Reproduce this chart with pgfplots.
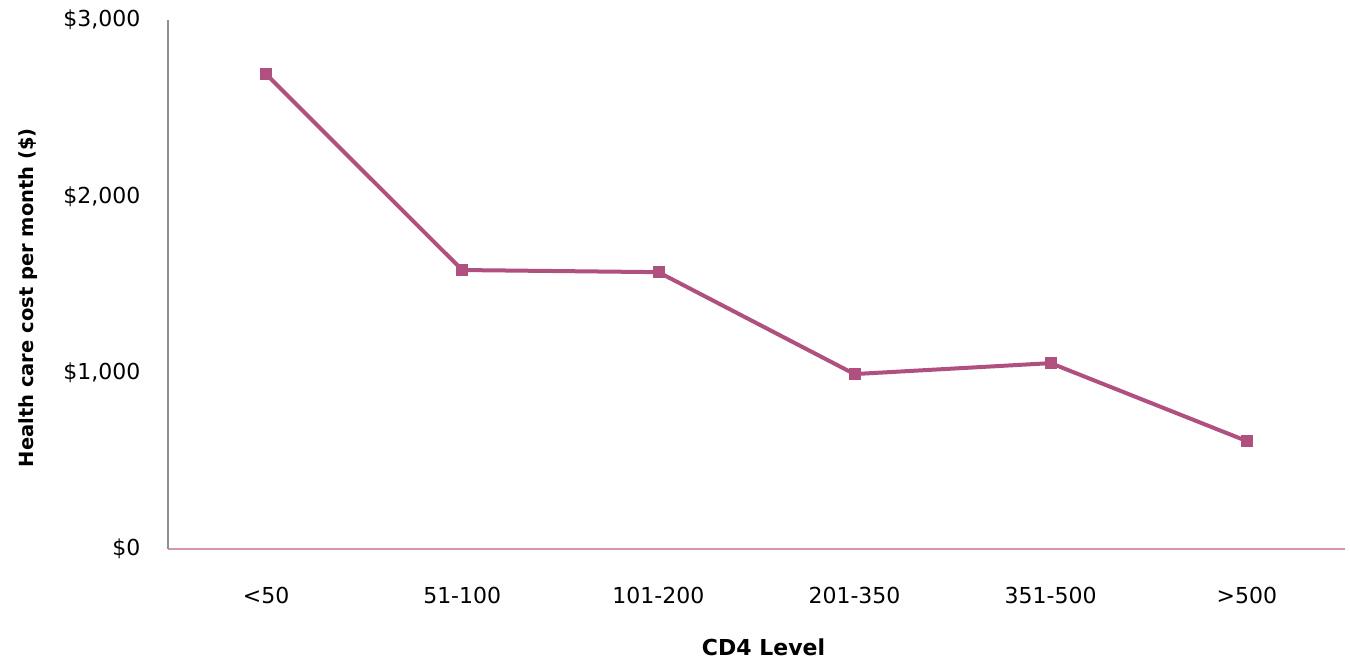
\documentclass[border=0pt]{standalone}
\usepackage{pgfplots}
\pgfplotsset{compat=1.18}
\usepackage{fontspec}
\setmainfont{DejaVu Sans}
\definecolor{linec}{HTML}{B0507F}
\definecolor{axgray}{HTML}{909090}
\begin{document}
\begin{tikzpicture}
\path[use as bounding box] (-168pt,-111pt) rectangle (1182pt,549pt);
\begin{axis}[
  at={(0,0)}, anchor=south west,
  scale only axis, width=1177pt, height=529pt,
  xmin=-0.5, xmax=5.5, ymin=0, ymax=3000,
  axis x line=bottom, axis y line=left,
  axis line style={-, line width=1.5pt},
  x axis line style={color=linec!60},
  y axis line style={color=axgray},
  xtick={0,1,2,3,4,5},
  xticklabels={<50,51-100,101-200,201-350,351-500,>500},
  ytick={0,1000,2000,3000},
  yticklabels={\$0,{\$1,000},{\$2,000},{\$3,000}},
  major tick length=0pt,
  tick label style={font=\fontsize{22}{24}\selectfont},
  xticklabel style={yshift=-35pt},
  yticklabel style={xshift=-24pt},
  xlabel={\textbf{CD4 Level}},
  ylabel={\textbf{Health care cost per month (\$)}},
  xlabel style={font=\fontsize{22}{24}\selectfont, at={(axis description cs:0.506,0)}, anchor=center, yshift=-98pt},
  ylabel style={font=\fontsize{19.5}{22}\selectfont, at={(axis description cs:-0.119,0.475)}, anchor=center},
  clip=false,
]
\addplot[color=linec, line width=4pt, mark=square*, mark size=5.5pt, mark options={fill=linec, line width=0.5pt}]
  coordinates {(0,2693) (1,1582) (2,1570) (3,992) (4,1054) (5,612)};
\end{axis}
\end{tikzpicture}
\end{document}
